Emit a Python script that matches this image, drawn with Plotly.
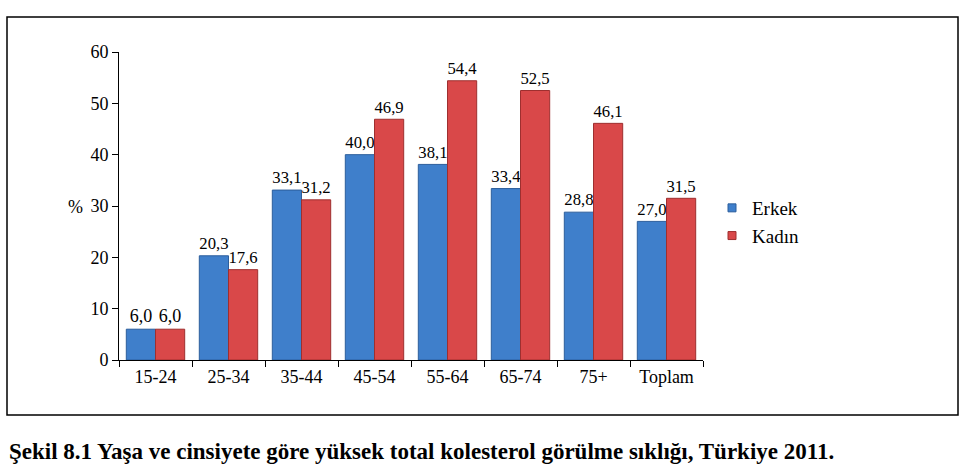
import plotly.graph_objects as go

categories = ["15-24", "25-34", "35-44", "45-54", "55-64", "65-74", "75+", "Toplam"]
erkek = [6.0, 20.3, 33.1, 40.0, 38.1, 33.4, 28.8, 27.0]
kadin = [6.0, 17.6, 31.2, 46.9, 54.4, 52.5, 46.1, 31.5]
y_ticks = [0, 10, 20, 30, 40, 50, 60]

def fmt(v):
    return f"{v:.1f}".replace(".", ",")

FONT = "Liberation Serif"
BLUE, BLUE_EDGE = "#3F7FCB", "#2C5E9C"
RED, RED_EDGE = "#D94849", "#9E2F2F"
L, R, T, B = 119, 703, 52, 360
W, H = 971, 473
pw, ph = R - L, B - T

def px(x):
    return (x - L) / pw

def py(y):
    return (B - y) / ph

fig = go.Figure()
fig.add_trace(go.Bar(
    x=categories, y=erkek, name="Erkek", showlegend=False,
    marker=dict(color=BLUE, line=dict(color=BLUE_EDGE, width=1)),
    text=[fmt(v) for v in erkek], textposition="outside",
    textfont=dict(family=FONT, size=18, color="#000000"), cliponaxis=False,
))
fig.add_trace(go.Bar(
    x=categories, y=kadin, name="Kadın", showlegend=False,
    marker=dict(color=RED, line=dict(color=RED_EDGE, width=1)),
    text=[fmt(v) for v in kadin], textposition="outside",
    textfont=dict(family=FONT, size=18, color="#000000"), cliponaxis=False,
))
# legend entries with small square keys
fig.add_trace(go.Scatter(x=[None], y=[None], mode="markers", name="Erkek",
                         marker=dict(symbol="square", size=8, color=BLUE,
                                     line=dict(color=BLUE_EDGE, width=1))))
fig.add_trace(go.Scatter(x=[None], y=[None], mode="markers", name="Kadın",
                         marker=dict(symbol="square", size=8, color=RED,
                                     line=dict(color=RED_EDGE, width=1))))

fig.update_layout(
    width=W, height=H,
    margin=dict(l=L, r=W - R, t=T, b=H - B),
    paper_bgcolor="white", plot_bgcolor="white",
    barmode="group", bargap=0.2, bargroupgap=0,
    showlegend=True,
    legend=dict(x=px(712), y=py(189), xanchor="left", yanchor="top",
                font=dict(family=FONT, size=19, color="#000000"),
                bgcolor="rgba(0,0,0,0)", itemwidth=30),
    xaxis=dict(showline=True, linecolor="black", linewidth=1,
               ticks="outside", ticklen=6, tickcolor="black",
               tickson="boundaries", showgrid=False,
               tickfont=dict(family=FONT, size=18, color="#000000")),
    yaxis=dict(range=[0, 60], tickvals=y_ticks, showline=True, linecolor="black",
               linewidth=1, ticks="outside", ticklen=6, tickcolor="black",
               showgrid=False, zeroline=False,
               tickfont=dict(family=FONT, size=18, color="#000000")),
    shapes=[dict(type="rect", xref="paper", yref="paper",
                 x0=px(7), x1=px(958), y0=py(415), y1=py(17),
                 line=dict(color="black", width=1.5), fillcolor="rgba(0,0,0,0)")],
    annotations=[
        dict(text="%", xref="paper", yref="paper", x=px(66), y=py(207),
             showarrow=False, font=dict(family=FONT, size=18, color="#000000")),
        dict(text="<b>Şekil 8.1 Yaşa ve cinsiyete göre yüksek total kolesterol görülme sıklığı, Türkiye 2011.</b>",
             xref="paper", yref="paper", x=px(7), y=py(451), xanchor="left", yanchor="middle",
             showarrow=False, font=dict(family=FONT, size=23, color="#000000")),
    ],
)

fig.write_html("out.html")
